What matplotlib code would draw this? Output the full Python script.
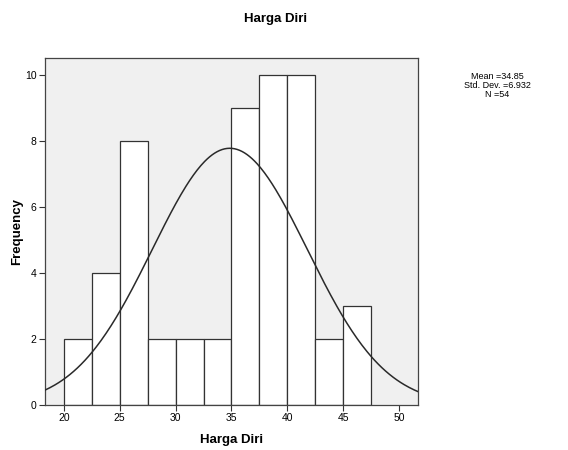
import numpy as np
import matplotlib
matplotlib.use("Agg")
import matplotlib.pyplot as plt

plt.rcParams['font.family'] = ['Liberation Sans', 'DejaVu Sans']

# histogram bins (left edges) and counts
bin_left = [20, 22.5, 25, 27.5, 30, 32.5, 35, 37.5, 40, 42.5, 45]
counts = [2, 4, 8, 2, 2, 2, 9, 10, 10, 2, 3]
bin_width = 2.5
mean = 34.85
sd = 6.932
n = 54

fig = plt.figure(figsize=(5.68, 4.5), dpi=100)
ax = fig.add_axes([0.079, 0.1, 0.657, 0.771])
ax.set_facecolor('#f0f0f0')

ax.bar(bin_left, counts, width=bin_width, align='edge', color='white',
       edgecolor='#333333', linewidth=0.9, zorder=2)

xs = np.linspace(18.3, 51.7, 300)
ys = n * bin_width / (sd * np.sqrt(2 * np.pi)) * np.exp(-0.5 * ((xs - mean) / sd) ** 2)
ax.plot(xs, ys, color='#2a2a2a', linewidth=1.1, zorder=3)

ax.set_xlim(18.3, 51.7)
ax.set_ylim(0, 10.5)
ax.set_xticks([20, 25, 30, 35, 40, 45, 50])
ax.set_yticks([0, 2, 4, 6, 8, 10])
ax.tick_params(labelsize=7.5, length=4, width=0.8, color='#333333', pad=2)
for s in ax.spines.values():
    s.set_color('#444444')
    s.set_linewidth(0.9)

ax.set_xlabel('Harga Diri', fontsize=9.5, fontweight='bold', labelpad=8)
ax.set_ylabel('Frequency', fontsize=9.5, fontweight='bold', labelpad=1)
fig.text(0.486, 0.958, 'Harga Diri', fontsize=9.5, fontweight='bold', ha='center', va='center')

fig.text(0.876, 0.81, 'Mean =34.85\nStd. Dev. =6.932\nN =54', fontsize=6.5,
         ha='center', va='center', linespacing=0.95)

fig.savefig('out.png', dpi=100)
plt.close()
